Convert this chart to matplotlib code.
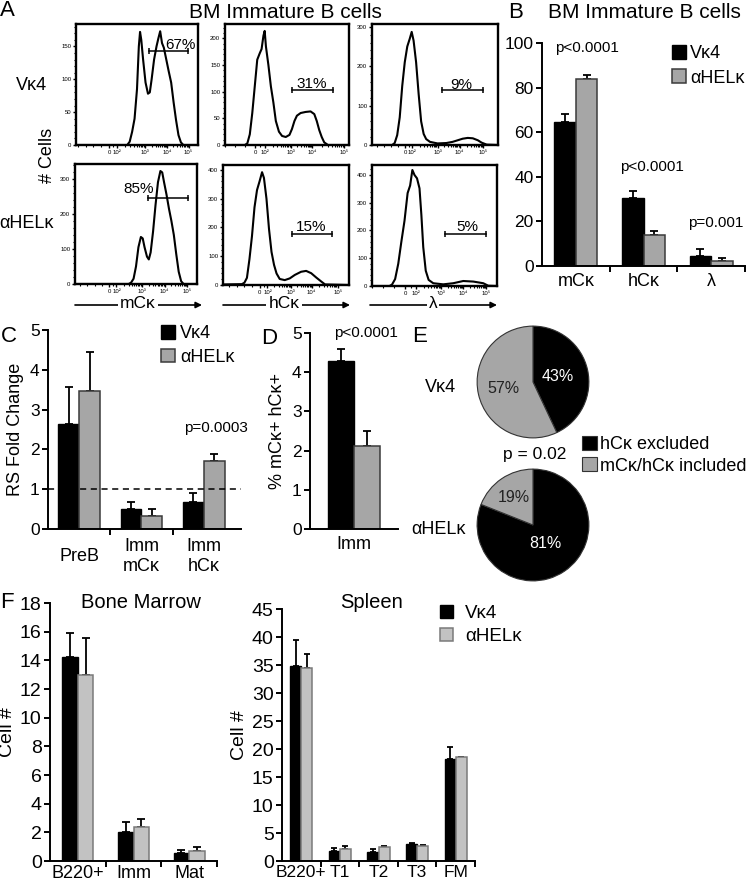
import numpy as np
import matplotlib.pyplot as plt

plt.rcParams['font.family'] = ['Liberation Sans', 'DejaVu Sans']

W, H = 747, 884

# ---------------- panel A: flow histograms (x = % of axis width, y = # cells)
c1_x = [0, 42, 44, 46, 48, 50, 51.5, 52.5, 53.5, 55, 57, 59, 60.5, 62, 64, 66, 67.5, 69, 70.5, 72, 74, 76, 78, 80, 82, 84, 86, 88, 100]
c1_y = [0, 0, 5, 20, 40, 85, 150, 172, 160, 130, 95, 78, 80, 100, 130, 150, 162, 173, 155, 148, 130, 112, 95, 65, 38, 15, 4, 0, 0]
c2_x = [0, 16, 18, 20, 22, 24, 26, 28, 29.5, 31, 32, 33, 35, 37, 39, 41, 43.5, 46, 49, 52, 54, 56, 58, 61, 65, 69, 72, 74, 76, 78, 80, 83, 100]
c2_y = [0, 0, 3, 20, 60, 110, 160, 172, 180, 205, 214, 185, 150, 110, 80, 45, 25, 17, 15, 19, 30, 45, 55, 60, 62, 63, 58, 45, 28, 15, 5, 0, 0]
c3_x = [0, 16, 18, 20, 22, 24, 26, 28, 30, 31.5, 33, 35, 37, 39, 41, 43, 46, 52, 59, 64, 68, 72, 76, 80, 84, 87, 91, 100]
c3_y = [0, 0, 5, 25, 70, 150, 210, 250, 270, 287, 265, 210, 130, 60, 28, 15, 8, 4, 5, 8, 12, 16, 18, 17, 12, 6, 1, 0]
c4_x = [0, 44, 46, 48, 50, 52, 54, 55.5, 57, 59, 60.5, 62, 64, 66, 68, 70, 71.5, 73, 75, 77, 79, 81, 83, 85, 87, 89, 100]
c4_y = [0, 0, 4, 15, 50, 105, 134, 130, 105, 78, 70, 90, 150, 225, 290, 322, 318, 290, 255, 215, 180, 140, 85, 35, 8, 0, 0]
c5_x = [0, 15, 17, 19, 21, 23, 25, 27, 29, 31, 32.5, 34.5, 36.5, 38.5, 40.5, 42.5, 45, 49, 53, 57, 62, 66, 70, 74, 78, 81, 100]
c5_y = [2, 3, 8, 25, 90, 170, 270, 330, 360, 392, 372, 300, 195, 115, 70, 40, 21, 17, 23, 35, 46, 49, 41, 26, 12, 2, 0]
c6_x = [0, 14, 16, 18.5, 21, 23.5, 26, 28.5, 30.5, 32.3, 34, 36, 38, 39.5, 41, 43, 45.3, 49, 57, 65, 73, 81, 89, 93, 100]
c6_y = [0, 0, 5, 25, 80, 160, 235, 335, 362, 418, 400, 388, 352, 256, 140, 55, 22, 10, 6, 10, 18, 16, 10, 1, 0]
curves = [(c1_x, c1_y), (c2_x, c2_y), (c3_x, c3_y), (c4_x, c4_y), (c5_x, c5_y), (c6_x, c6_y)]

gate_lo = [59.5, 54, 55.4, 60, 54.4, 58]
gate_hi = [92, 87, 88, 93, 86.7, 91.5]
gate_y = [143, 103, 140, 244, 176, 186]
gate_pct = ['67%', '31%', '9%', '85%', '15%', '5%']
hist_ymax = [184, 227, 307, 342, 417, 436]
hist_yticks = [[0, 50, 100, 150], [0, 50, 100, 150, 200], [0, 100, 200, 300],
               [0, 100, 200, 300], [0, 100, 200, 300, 400], [0, 100, 200, 300, 400]]
dec_labels = ['0', '10²', '10³', '10⁴', '10⁵']
dec_pos = [[27, 33.4, 56.7, 74.5, 92.3], [24.3, 32.4, 53, 70.5, 96.2], [26.3, 31.8, 52, 69.5, 88],
           [28, 34, 54.7, 73.4, 91.8], [29.2, 35.3, 53.8, 70.3, 91], [26.7, 35.5, 55.2, 72.8, 91.5]]
stains = ['mCκ', 'hCκ', 'λ']
mice = ['Vκ4', 'αHELκ']

# ---------------- panel B
b_cats = ['mCκ', 'hCκ', 'λ']
b_v4 = [64.5, 30.7, 4.7]
b_v4_err = [3.8, 3.0, 2.8]
b_ah = [84.0, 13.8, 2.4]
b_ah_err = [1.6, 1.9, 1.3]
b_p = ['p<0.0001', 'p<0.0001', 'p=0.001']

# ---------------- panel C
c_cats = ['PreB', 'Imm\nmCκ', 'Imm\nhCκ']
c_v4 = [2.65, 0.50, 0.69]
c_v4_err = [0.93, 0.19, 0.21]
c_ah = [3.46, 0.32, 1.72]
c_ah_err = [0.98, 0.19, 0.16]

# ---------------- panel D
d_cats = ['Imm']
d_v4 = [4.28]
d_v4_err = [0.31]
d_ah = [2.13]
d_ah_err = [0.36]

# ---------------- panel E
e_labels = ['hCκ excluded', 'mCκ/hCκ included']
e_v4 = [43, 57]
e_ah = [81, 19]

# ---------------- panel F
f_bm_cats = ['B220+', 'Imm', 'Mat']
f_bm_v4 = [14.2, 2.0, 0.55]
f_bm_v4_err = [1.7, 0.7, 0.25]
f_bm_ah = [12.97, 2.35, 0.72]
f_bm_ah_err = [2.6, 0.58, 0.25]
f_sp_cats = ['B220+', 'T1', 'T2', 'T3', 'FM']
f_sp_v4 = [34.9, 1.8, 1.66, 3.0, 18.2]
f_sp_v4_err = [4.5, 0.6, 0.45, 0.3, 2.2]
f_sp_ah = [34.4, 2.1, 2.5, 2.7, 18.5]
f_sp_ah_err = [2.5, 0.6, 0.15, 0.1, 0.1]

GRAY = '#a6a6a6'
GRAY_EDGE = '#3a3a3a'
FGRAY = '#c2c2c2'
FGRAY_EDGE = '#7a7a7a'


def box(l, t, r, b):
    return [l / W, 1 - b / H, (r - l) / W, (b - t) / H]


fig = plt.figure(figsize=(W / 100, H / 100), dpi=100)

ax0 = fig.add_axes([0, 0, 1, 1])
ax0.set_xlim(0, W)
ax0.set_ylim(H, 0)
ax0.axis('off')
ax0.set_zorder(10)

# ---------------- A
hist_boxes = [(76, 24, 198, 145), (225, 24, 349, 145), (372, 24, 498, 145),
              (75, 164, 197, 284), (223, 165, 349, 285), (372, 165, 497, 286)]
label_pos = [(86, 146), (70, 106), (71, 143), (52, 259), (70, 187), (76.5, 197)]
for i, rect in enumerate(hist_boxes):
    ax = fig.add_axes(box(*rect))
    xs, ys = curves[i]
    ax.plot(xs, ys, color='black', lw=1.5)
    ax.set_xlim(0, 100)
    ax.set_ylim(0, hist_ymax[i])
    for s in ax.spines.values():
        s.set_linewidth(1.7)
    ax.set_yticks(hist_yticks[i])
    step = hist_yticks[i][1] / 5
    ax.set_yticks(np.arange(0, hist_ymax[i], step), minor=True)
    dp = dec_pos[i]
    ax.set_xticks(dp)
    ax.set_xticklabels(dec_labels)
    minors = [dp[0] - k * (dp[1] - dp[0]) for k in range(1, 5)]
    minors += [dp[0] + (dp[1] - dp[0]) * f for f in (0.5,)]
    for j in range(1, 4):
        for k in range(2, 10):
            minors.append(dp[j] + (dp[j + 1] - dp[j]) * np.log10(k))
    ax.set_xticks([m for m in minors if 0 < m < 100], minor=True)
    ax.tick_params(which='major', length=2.2, width=1.0, labelsize=4.3, pad=1.2)
    ax.tick_params(which='minor', length=1.5, width=0.8)
    ax.plot([gate_lo[i], gate_hi[i]], [gate_y[i]] * 2, color='black', lw=1.1)
    ax.plot([gate_lo[i], gate_hi[i]], [gate_y[i]] * 2, 'k|', ms=5, mew=1.1)
    ax.text(label_pos[i][0], label_pos[i][1], gate_pct[i], ha='center', va='baseline', fontsize=11)

ax0.text(7, 11, 'A', ha='center', va='center', fontsize=16)
ax0.text(285, 12, 'BM Immature B cells', ha='center', va='center', fontsize=15)
ax0.text(31, 85, mice[0], ha='center', va='center', fontsize=13)
ax0.text(27, 224, mice[1], ha='center', va='center', fontsize=13)
ax0.text(47, 155, '# Cells', ha='center', va='center', rotation=90, fontsize=13)
arrow_x = [(75, 202, 138), (223, 350, 284), (370, 497, 433)]
for (x0, x1, cx), lab in zip(arrow_x, stains):
    ax0.annotate('', xy=(x1, 305), xytext=(x0, 305),
                 arrowprops=dict(arrowstyle='-|>', color='black', lw=1.2, mutation_scale=9,
                                 shrinkA=0, shrinkB=0))
    ax0.text(cx, 304, lab, ha='center', va='center', fontsize=12.5, zorder=5,
             bbox=dict(facecolor='white', edgecolor='none', pad=1.5))


def style(ax, ylab=12.5):
    for s in ['top', 'right']:
        ax.spines[s].set_visible(False)
    for s in ['left', 'bottom']:
        ax.spines[s].set_linewidth(1.4)
    ax.tick_params(axis='y', direction='out', length=4, width=1.4, labelsize=ylab, pad=2)
    ax.tick_params(axis='x', which='major', length=0, labelsize=13, pad=5)
    ax.tick_params(axis='x', which='minor', direction='out', length=4, width=1.4)


def pair(ax, pos, v1, e1, v2, e2, w, gray, gedge, cap=3):
    pos = np.asarray(pos, dtype=float)
    b1 = ax.bar(pos - w / 2, v1, w, color='black', edgecolor='black', lw=1, zorder=2)
    b2 = ax.bar(pos + w / 2, v2, w, color=gray, edgecolor=gedge, lw=1.1, zorder=2)
    for p, v, e in ((pos - w / 2, v1, e1), (pos + w / 2, v2, e2)):
        ax.errorbar(p, v, yerr=[np.zeros(len(v)), e], fmt='none', ecolor='black',
                    elinewidth=1.3, capsize=cap, capthick=1.3, zorder=1)
    return b1, b2


# ---------------- B
axB = fig.add_axes(box(542, 43, 745, 266))
xb = np.arange(len(b_cats)) + 0.5
hb = pair(axB, xb, b_v4, b_v4_err, b_ah, b_ah_err, 0.32, GRAY, GRAY_EDGE)
axB.set_xlim(0, 3)
axB.set_ylim(0, 100)
axB.set_yticks(range(0, 101, 20))
axB.set_xticks(xb)
axB.set_xticklabels(b_cats)
axB.set_xticks([1, 2, 3], minor=True)
style(axB)
ax0.text(516, 12, 'B', ha='center', va='center', fontsize=16)
ax0.text(644, 12, 'BM Immature B cells', ha='center', va='center', fontsize=15)
for (px, py), t in zip([(587, 48), (652, 167), (716, 223)], b_p):
    ax0.text(px, py, t, ha='center', va='center', fontsize=11)
fig.legend(hb, mice, loc='upper left', bbox_to_anchor=(672, 45), bbox_transform=ax0.transData,
           frameon=False, fontsize=13, handlelength=0.8, handleheight=0.8, handletextpad=0.2,
           labelspacing=0.4, borderpad=0, borderaxespad=0)

# ---------------- C
axC = fig.add_axes(box(48, 330, 241, 529))
xc = np.arange(len(c_cats))
hc = pair(axC, xc, c_v4, c_v4_err, c_ah, c_ah_err, 0.335, GRAY, GRAY_EDGE)
axC.axhline(1, color='black', lw=1.1, ls=(0, (4, 3)), zorder=3)
axC.set_xlim(-0.5, 2.6)
axC.set_ylim(0, 5)
axC.set_yticks(range(6))
axC.set_xticks(xc)
axC.set_xticklabels(c_cats, va='center')
axC.set_xticks([0.5, 1.5], minor=True)
style(axC)
axC.tick_params(axis='x', which='major', pad=20)
axC.set_ylabel('RS Fold Change', fontsize=13, labelpad=4)
ax0.text(9, 337, 'C', ha='center', va='center', fontsize=16)
ax0.text(216, 428, 'p=0.0003', ha='center', va='center', fontsize=11)
fig.legend(hc, mice, loc='upper left', bbox_to_anchor=(161, 325), bbox_transform=ax0.transData,
           frameon=False, fontsize=13, handlelength=0.8, handleheight=0.8, handletextpad=0.25,
           labelspacing=0.35, borderpad=0, borderaxespad=0)

# ---------------- D
axD = fig.add_axes(box(310, 333, 398, 529))
pair(axD, [0], d_v4, d_v4_err, d_ah, d_ah_err, 0.295, GRAY, GRAY_EDGE)
axD.set_xlim(-0.5, 0.5)
axD.set_ylim(0, 5)
axD.set_yticks(range(6))
axD.set_xticks([0])
axD.set_xticklabels(d_cats)
style(axD)
axD.set_ylabel('% mCκ+ hCκ+', fontsize=13, labelpad=4)
ax0.text(269, 338, 'D', ha='center', va='center', fontsize=16)
ax0.text(366, 333, 'p<0.0001', ha='center', va='center', fontsize=11)

# ---------------- E
pie_dist = [[0.45, 0.55], [0.4, 0.6]]
pie_txt = ['white', '#222222']
wedges = None
for vals, (cy), dists in zip([e_v4, e_ah], [382, 525], pie_dist):
    axE = fig.add_axes(box(476, cy - 57, 590, cy + 57))
    ws, _ = axE.pie(vals, colors=['black', GRAY], startangle=90, counterclock=False, radius=1,
                    wedgeprops=dict(edgecolor='#333333', linewidth=0.8))
    axE.set_xlim(-1.02, 1.02)
    axE.set_ylim(-1.02, 1.02)
    axE.set_aspect('auto')
    for w, v, d, col in zip(ws, vals, dists, pie_txt):
        ang = np.deg2rad((w.theta1 + w.theta2) / 2)
        axE.text(d * np.cos(ang), d * np.sin(ang), f'{v}%', ha='center', va='center',
                 fontsize=11.5, color=col)
    wedges = ws
ax0.text(420, 337, 'E', ha='center', va='center', fontsize=16)
ax0.text(440, 388, mice[0], ha='center', va='center', fontsize=13)
ax0.text(439, 530, mice[1], ha='center', va='center', fontsize=13)
ax0.text(535, 455, 'p = 0.02', ha='center', va='center', fontsize=12.5)
fig.legend(wedges, e_labels, loc='upper left', bbox_to_anchor=(582, 436), bbox_transform=ax0.transData,
           frameon=False, fontsize=13, handlelength=0.85, handleheight=0.85, handletextpad=0.15,
           labelspacing=0.2, borderpad=0, borderaxespad=0)

# ---------------- F
axF1 = fig.add_axes(box(50, 603, 217, 861))
xf1 = np.arange(len(f_bm_cats)) + 0.5
pair(axF1, xf1, f_bm_v4, f_bm_v4_err, f_bm_ah, f_bm_ah_err, 0.28, FGRAY, FGRAY_EDGE, cap=2.8)
axF1.set_xlim(0, 3)
axF1.set_ylim(0, 18)
axF1.set_yticks(range(0, 19, 2))
axF1.set_xticks(xf1)
axF1.set_xticklabels(f_bm_cats)
axF1.set_xticks([1, 2, 3], minor=True)
style(axF1, ylab=14)
axF1.tick_params(axis='x', which='major', labelsize=13, pad=3)
axF1.set_ylabel('Cell #', fontsize=14, labelpad=3)

axF2 = fig.add_axes(box(282, 609, 475, 861))
xf2 = np.arange(len(f_sp_cats)) + 0.5
hf = pair(axF2, xf2, f_sp_v4, f_sp_v4_err, f_sp_ah, f_sp_ah_err, 0.29, FGRAY, FGRAY_EDGE, cap=2.5)
axF2.set_xlim(0, 5)
axF2.set_ylim(0, 45)
axF2.set_yticks(range(0, 46, 5))
axF2.set_xticks(xf2)
axF2.set_xticklabels(f_sp_cats)
axF2.set_xticks([1, 2, 3, 4, 5], minor=True)
style(axF2, ylab=14)
axF2.tick_params(axis='x', which='major', labelsize=12.5, pad=3)
axF2.set_ylabel('Cell #', fontsize=14, labelpad=3)

ax0.text(7, 603, 'F', ha='center', va='center', fontsize=16)
ax0.text(141, 603, 'Bone Marrow', ha='center', va='center', fontsize=14.5)
ax0.text(372, 603, 'Spleen', ha='center', va='center', fontsize=14.5)
fig.legend(hf, mice, loc='upper left', bbox_to_anchor=(440, 605), bbox_transform=ax0.transData,
           frameon=False, fontsize=13.5, handlelength=0.7, handleheight=0.7, handletextpad=0.65,
           labelspacing=0.3, borderpad=0, borderaxespad=0)

fig.savefig('out.png', dpi=100)
